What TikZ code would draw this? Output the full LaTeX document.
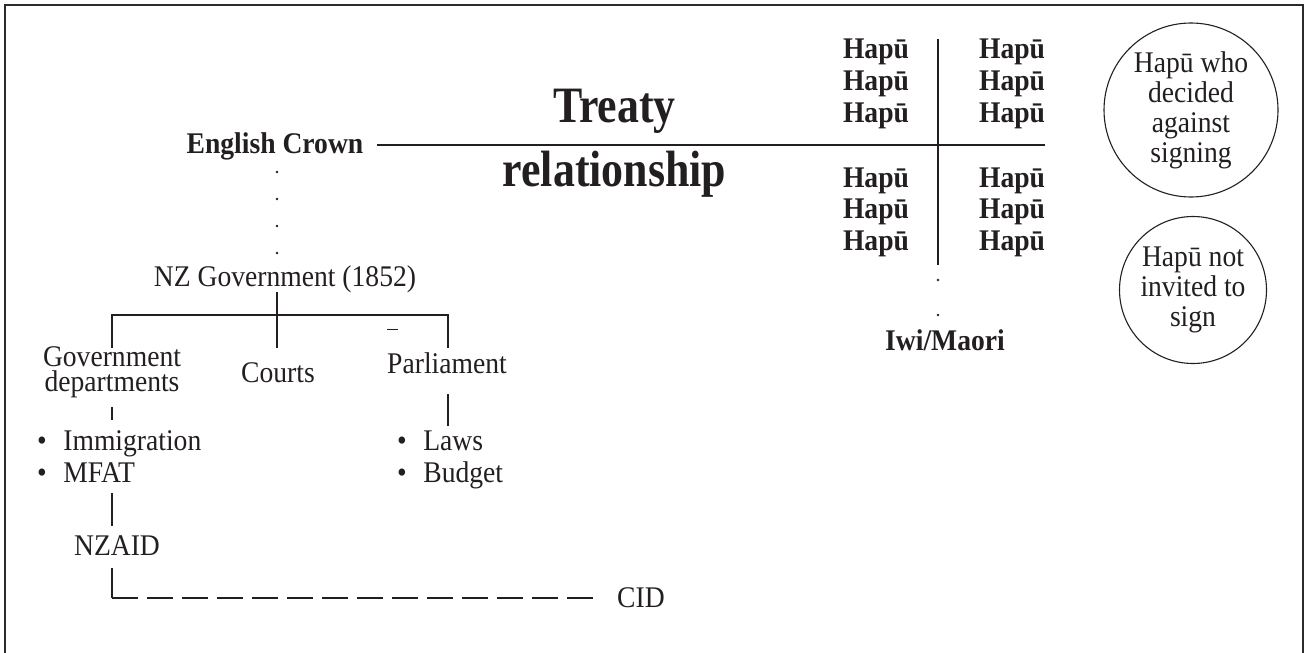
\documentclass[tikz,border=0pt]{standalone}
\usepackage{fontspec}
\usepackage{graphicx}
\setmainfont[FakeStretch=0.92]{Liberation Serif}
\definecolor{ink}{HTML}{231F20}
\definecolor{framec}{HTML}{2B2B2B}
\tikzset{
  txt/.style={font=\fontsize{30}{30}\selectfont, inner sep=0pt, text=ink},
  btxt/.style={font=\fontsize{30}{30}\selectfont\bfseries, inner sep=0pt, text=ink},
  bigtxt/.style={font=\fontsize{51}{51}\selectfont\bfseries, inner sep=0pt, text=ink},
  conn/.style={draw=ink, line width=1.1pt},
  dotmark/.style={fill=ink, circle, inner sep=0pt, minimum size=2.6pt},
  ring/.style={draw=ink, line width=1.1pt, circle, inner sep=0pt, align=center,
               font=\fontsize{30}{30}\selectfont, text=ink},
}
\begin{document}
\begin{tikzpicture}[x=1pt, y=-1pt]
\useasboundingbox (0,0) rectangle (1306,653);
\begin{scope}
  \clip (0,0) rectangle (1306,653);
  \draw[framec, line width=2.2pt] (5,5) rectangle (1303,720);
\end{scope}

% Crown side
\node[btxt, anchor=base] (crown) at (275,153) {English Crown};
\coordinate (tl) at (377,145);
\coordinate (tr) at (1045,145);
\draw[conn] (tl) -- (tr);

\node[bigtxt, anchor=base] (treaty) at (614.5,122) {\scalebox{0.935}[1]{Treaty}};
\node[bigtxt, anchor=base] (relat) at (614.5,186) {\scalebox{0.935}[1]{relationship}};

\node[dotmark] (d1) at (277,172) {};
\node[dotmark] (d2) at (277,199) {};
\node[dotmark] (d3) at (277,226) {};
\node[dotmark] (d4) at (277,253) {};

\node[txt, anchor=base] (nzgov) at (285,286) {NZ Government (1852)};

\coordinate (gtop) at (277,292);
\coordinate (gbot) at (277,348);
\coordinate (barl) at (112,315);
\coordinate (barr) at (448,315);
\coordinate (barlb) at (112,348);
\coordinate (barrb) at (448,348);
\draw[conn] (gtop) -- (gbot);
\draw[conn] (barlb) -- (barl) -- (barr) -- (barrb);
\coordinate (mac1) at (387,329);
\coordinate (mac2) at (398,329);
\draw[ink, line width=0.9pt] (mac1) -- (mac2);

\node[txt, align=center] (dept) at (112,372) {Government\\[-5pt]departments};
\node[txt, anchor=base] (courts) at (278,382) {Courts};
\node[txt, anchor=base] (parl) at (447,373) {Parliament};

\coordinate (dl1) at (112,407);
\coordinate (dl2) at (112,420);
\draw[conn] (dl1) -- (dl2);
\coordinate (pl1) at (448,394);
\coordinate (pl2) at (448,426);
\draw[conn] (pl1) -- (pl2);

\node[txt, anchor=base west] (imm) at (37,450) {\textbullet\hspace{16.5pt}Immigration};
\node[txt, anchor=base west] (mfat) at (37,482) {\textbullet\hspace{16.5pt}MFAT};
\node[txt, anchor=base west] (laws) at (397,450) {\textbullet\hspace{16.5pt}Laws};
\node[txt, anchor=base west] (budget) at (397,482) {\textbullet\hspace{16.5pt}Budget};

\coordinate (ml1) at (112,493);
\coordinate (ml2) at (112,526);
\draw[conn] (ml1) -- (ml2);

\node[txt, anchor=base] (nzaid) at (117,555) {NZAID};
\coordinate (nl1) at (112,568);
\coordinate (corner) at (112,598);
\coordinate (dashend) at (593,598);
\draw[conn] (nl1) -- (corner);
\draw[conn, dash pattern=on 26pt off 9pt] (corner) -- (dashend);
\node[txt, anchor=base west] (cid) at (617,607) {CID};

% Hapu side
\foreach \i/\y in {1/58,2/90,3/122,4/187,5/218,6/250}{
  \node[btxt, anchor=base] (hl\i) at (876,\y) {Hapū};
  \node[btxt, anchor=base] (hr\i) at (1012,\y) {Hapū};
}
\coordinate (vdt) at (938,39);
\coordinate (vdb) at (938,265);
\draw[conn] (vdt) -- (vdb);
\node[dotmark] (e1) at (938,280) {};
\node[dotmark] (e2) at (938,315) {};
\node[btxt, anchor=base] (iwi) at (945,350) {Iwi/Maori};

\node[ring, minimum size=174pt] (c1) at (1191,110) {Hapū who\\decided\\against\\signing};
\node[ring, minimum size=147pt] (c2) at (1193,290) {Hapū not\\invited to\\sign};
\end{tikzpicture}
\end{document}
